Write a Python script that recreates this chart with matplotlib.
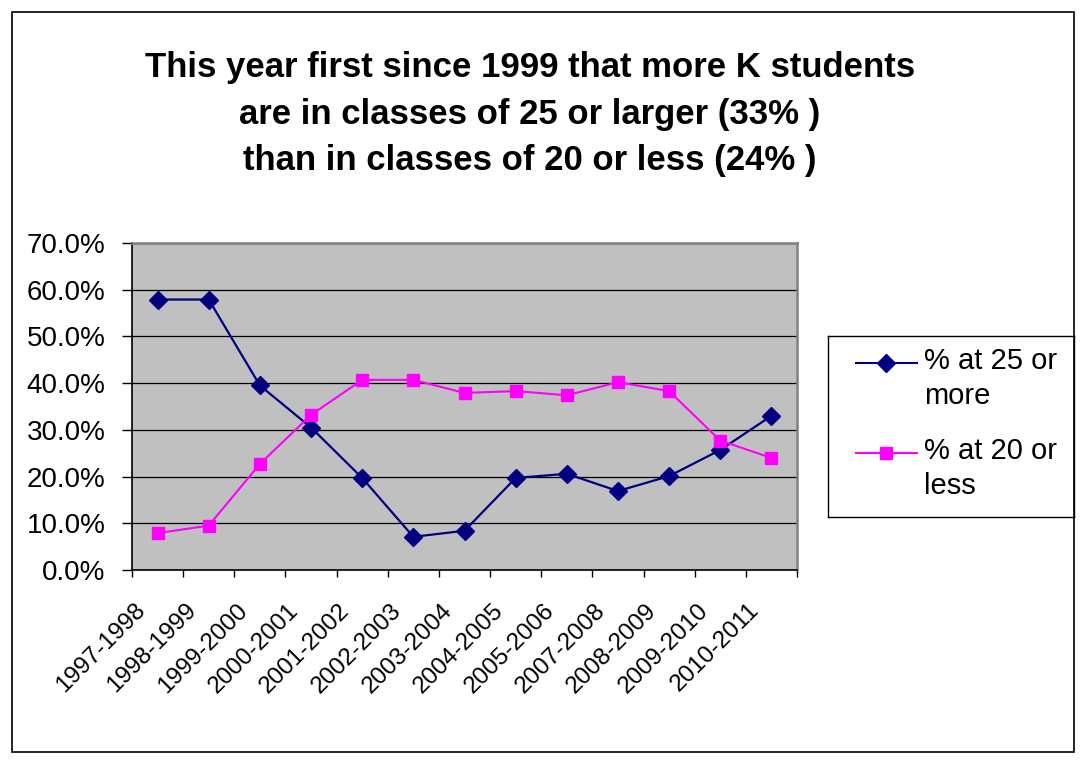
import numpy as np
import matplotlib
matplotlib.use('Agg')
from matplotlib import pyplot as plt
from matplotlib.patches import Rectangle
import matplotlib.transforms as mtransforms

years = ['1997-1998', '1998-1999', '1999-2000', '2000-2001', '2001-2002',
         '2002-2003', '2003-2004', '2004-2005', '2005-2006', '2007-2008',
         '2008-2009', '2009-2010', '2010-2011']
pct_25_more = [57.9, 57.9, 39.5, 30.5, 19.7, 7.1, 8.4, 19.7, 20.6, 16.9, 20.1, 25.7, 33.0]
pct_20_less = [7.9, 9.5, 22.7, 33.2, 40.7, 40.7, 37.9, 38.3, 37.4, 40.2, 38.3, 27.7, 24.0]
series_labels = ['% at 25 or\nmore', '% at 20 or\nless']
title_lines = ['This year first since 1999 that more K students',
               'are in classes of 25 or larger (33% )',
               'than in classes of 20 or less (24% )']
y_ticks = [0, 10, 20, 30, 40, 50, 60, 70]

W, H = 1089, 765
plt.rcParams['font.family'] = ['Liberation Sans', 'DejaVu Sans']

def fx(x):
    return x / W

def fy(y):
    return 1 - y / H

fig = plt.figure(figsize=(W / 100, H / 100), dpi=100)

# outer chart border
fig.add_artist(Rectangle((fx(12), fy(752)), fx(1074) - fx(12), fy(12) - fy(752),
                         transform=fig.transFigure, fill=False, ec='black', lw=1.2))

# title, one line at a time (baselines)
for txt, yb in zip(title_lines, [77, 124, 170]):
    fig.text(fx(530), fy(yb), txt, ha='center', va='baseline',
             fontsize=25, fontweight='bold')

ax = fig.add_axes([fx(132), fy(570), fx(797) - fx(132), fy(243) - fy(570)])
ax.set_facecolor('#C0C0C0')
x = np.arange(len(years)) + 0.5
ax.plot(x, pct_25_more, color='#000080', lw=1.6, marker='D', ms=9,
        mec='#000080', mfc='#000080', zorder=3)
ax.plot(x, pct_20_less, color='#FF00FF', lw=1.5, marker='s', ms=9,
        mec='#FF00FF', mfc='#FF00FF', zorder=3)

ax.set_xlim(0, len(years))
ax.set_ylim(0, 70)
ax.set_yticks(y_ticks)
ax.set_yticklabels(['{:.1f}%'.format(v) for v in y_ticks])
ax.yaxis.grid(True, color='black', lw=0.9)
ax.set_axisbelow(True)

ax.set_xticks(np.arange(len(years) + 1))
ax.set_xticklabels([])
ax.set_xticks(x, minor=True)
ax.set_xticklabels(years, minor=True, rotation=45, ha='right', va='top', fontsize=17.5)
ax.tick_params(axis='x', which='major', length=5, width=1, color='black')
ax.tick_params(axis='x', which='minor', length=0, pad=21)
ax.tick_params(axis='y', length=7, width=1, pad=12, labelsize=20)
offset = mtransforms.ScaledTranslation(-8 / 100, 0, fig.dpi_scale_trans)
for lab in ax.xaxis.get_minorticklabels():
    lab.set_transform(lab.get_transform() + offset)

for s in ['top', 'right']:
    ax.spines[s].set_color('#808080')
    ax.spines[s].set_linewidth(1.8)
for s in ['left', 'bottom']:
    ax.spines[s].set_color('black')
    ax.spines[s].set_linewidth(1.2)

# legend box drawn in pixel coordinates
lax = fig.add_axes([fx(828), fy(517), fx(1074) - fx(828), fy(336) - fy(517)])
lax.set_xlim(828, 1074)
lax.set_ylim(517, 336)
lax.set_xticks([])
lax.set_yticks([])
for s in lax.spines.values():
    s.set_color('black')
    s.set_linewidth(1.0)
styles = [('#000080', 'D'), ('#FF00FF', 's')]
for (col, mk), lab, yl, yb in zip(styles, series_labels, [363, 453], [404, 494]):
    lax.plot([856, 886, 917], [yl, yl, yl], color=col, lw=1.5, marker=mk, ms=9,
             markevery=[1], mec=col, mfc=col)
    lax.text(924, yb, lab, ha='left', va='baseline', fontsize=21, linespacing=1.3)

fig.savefig('out.png', dpi=100)
